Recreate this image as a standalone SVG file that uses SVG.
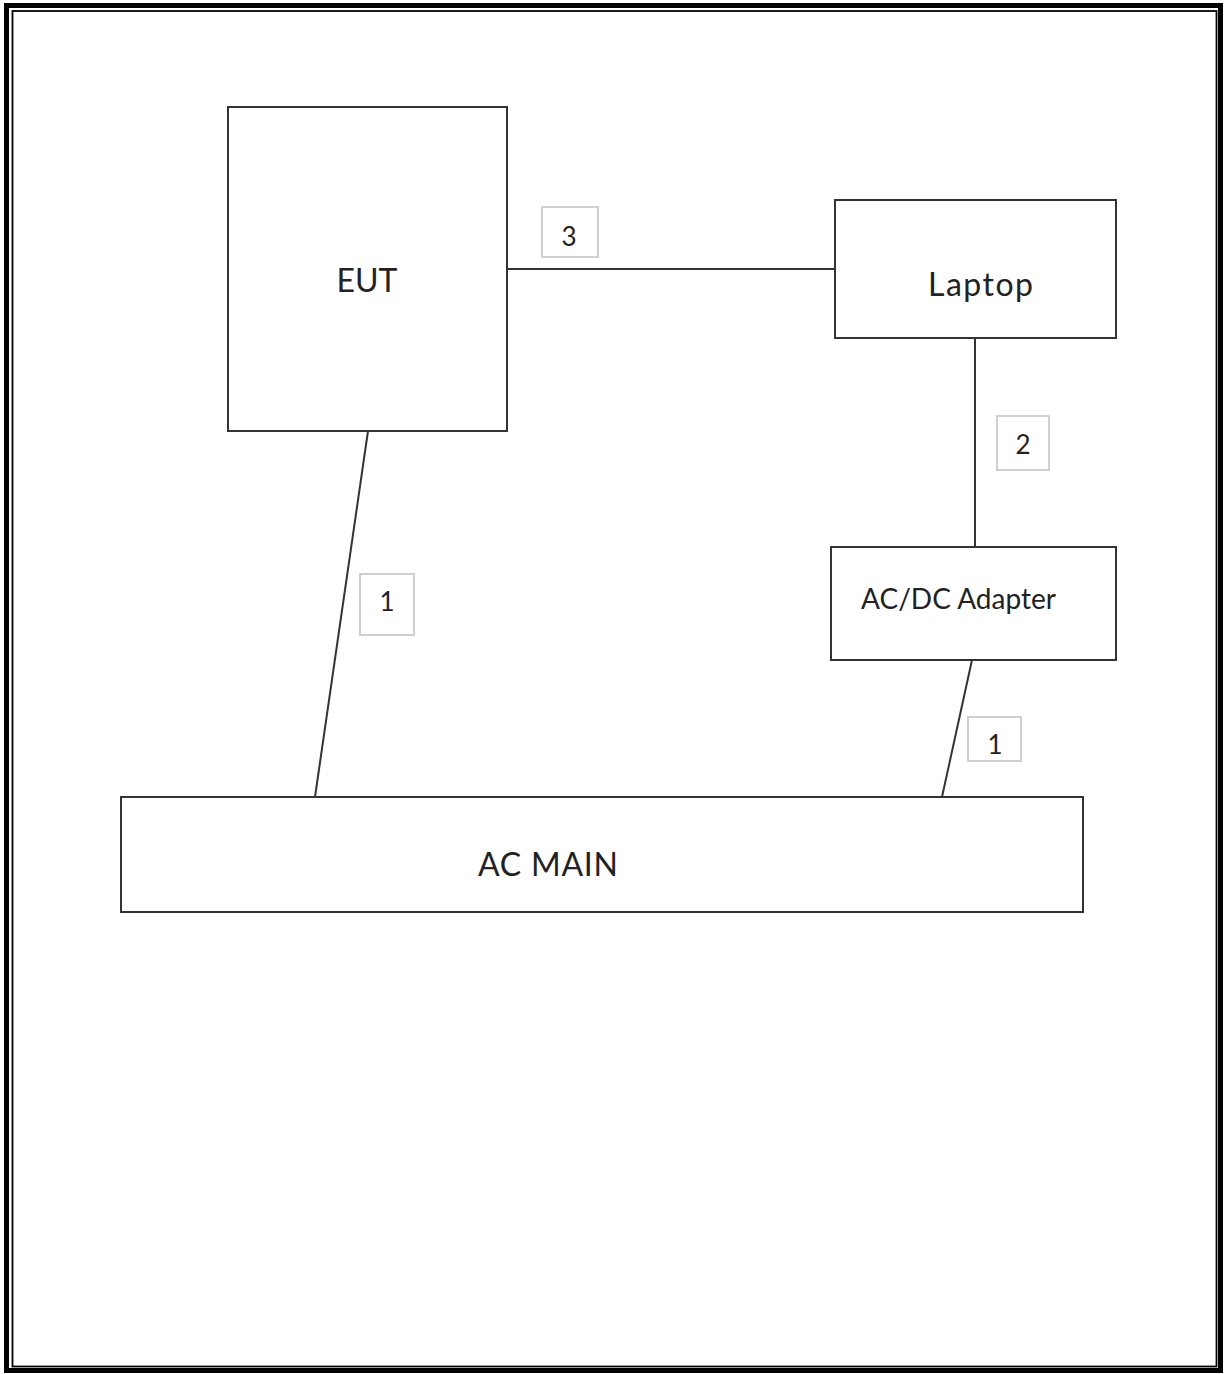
<svg xmlns="http://www.w3.org/2000/svg" width="1225" height="1374" viewBox="0 0 1225 1374">
<style>
.box{fill:#fff;stroke:#333;stroke-width:2}
.lbl{fill:#fff;stroke:#d0d0d0;stroke-width:2}
.ln{stroke:#333;stroke-width:2;fill:none}
text{font-family:Lato,"Open Sans","Liberation Sans",sans-serif;fill:#222}
.big{font-size:32px}
.num{font-size:26px;text-anchor:middle}
</style>
<rect x="0" y="0" width="1225" height="1374" fill="#fff"/>
<rect x="6.5" y="5.5" width="1214" height="1365" fill="none" stroke="#000" stroke-width="5"/>
<rect x="12.5" y="11" width="1204" height="1355.5" fill="none" stroke="#000" stroke-width="1.8"/>
<g id="connectors">
<line class="ln" x1="507" y1="269" x2="835" y2="269"/>
<line class="ln" x1="975" y1="338" x2="975" y2="547"/>
<line class="ln" x1="368" y1="431" x2="315" y2="797"/>
<line class="ln" x1="972" y1="660" x2="942" y2="797"/>
</g>
<g id="lbl3"><rect class="lbl" x="542" y="207" width="56" height="50"/><text class="num" x="569" y="246">3</text></g>
<g id="lbl2"><rect class="lbl" x="997" y="416" width="52" height="54"/><text class="num" x="1023" y="454">2</text></g>
<g id="lbl1a"><rect class="lbl" x="360" y="574" width="54" height="61"/><text class="num" x="387" y="611">1</text></g>
<g id="lbl1b"><rect class="lbl" x="968" y="717" width="53" height="44"/><text class="num" x="995" y="754">1</text></g>
<g id="eut"><rect class="box" x="228" y="107" width="279" height="324"/><text class="big" x="367" y="292" text-anchor="middle">EUT</text></g>
<g id="laptop"><rect class="box" x="835" y="200" width="281" height="138"/><text class="big" x="928" y="296" textLength="105">Laptop</text></g>
<g id="adapter"><rect class="box" x="831" y="547" width="285" height="113"/><text x="861" y="609" font-size="28" textLength="195">AC/DC Adapter</text></g>
<g id="acmain"><rect class="box" x="121" y="797" width="962" height="115"/><text class="big" x="478" y="876" textLength="140">AC MAIN</text></g>
</svg>
